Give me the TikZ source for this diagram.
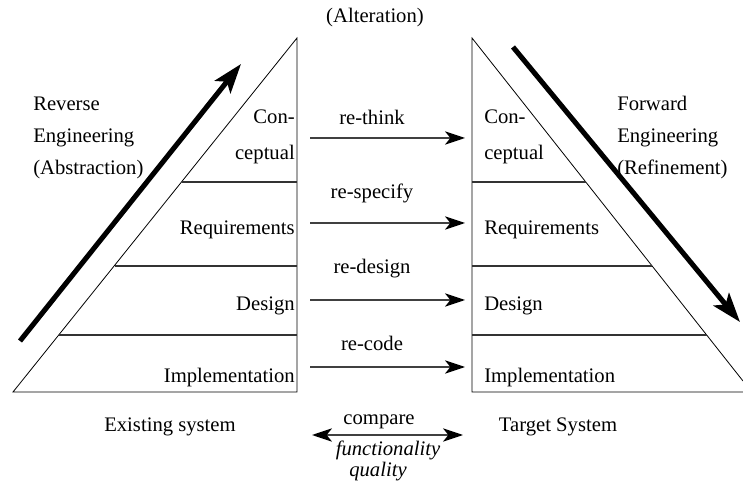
\documentclass[tikz,border=0pt]{standalone}
\usepackage{fontspec}
\setmainfont{Liberation Serif}
\usetikzlibrary{arrows.meta}

\begin{document}
\begin{tikzpicture}[x=0.75pt,y=-0.75pt]
\tikzstyle{every node}+=[inner sep=0pt, font=\fontsize{15.5}{24}\selectfont]
\tikzstyle{side}=[black, line width=0.6pt]
\tikzstyle{level}=[black!80, line width=1pt]
\tikzstyle{flow}=[black!75, line width=1pt, -{Stealth[length=15pt,width=10pt,inset=4pt,black]}]
\tikzstyle{bothflow}=[black!75, line width=1pt, {Stealth[length=15pt,width=10pt,inset=4pt,black]}-{Stealth[length=15pt,width=10pt,inset=4pt,black]}]
\tikzstyle{big}=[black, line width=3.8pt, -{Stealth[length=22pt,width=15pt,inset=5pt]}]
\useasboundingbox (0,0) rectangle (743,495);
\coordinate (ltop) at (297,38);
\coordinate (lbot) at (297,392);
\coordinate (lleft) at (13,392);
\draw [side] (lleft) -- (ltop) -- (lbot) -- cycle;
\draw [level] (181.5,182) -- (297,182);
\draw [level] (114.5,266) -- (297,266);
\draw [level] (58.7,335) -- (297,335);
\coordinate (rtop) at (472,38);
\coordinate (rbot) at (472,392);
\coordinate (rhyp) at (743,381);
\coordinate (rright) at (743,392);
\draw [side] (rhyp) -- (rtop) -- (rbot) -- (rright);
\draw [level] (472,182) -- (585.8,182);
\draw [level] (472,266) -- (652,266);
\draw [level] (472,335) -- (706.6,335);
\coordinate (revA) at (20,341);
\coordinate (revB) at (241,64);
\draw [big] (revA) -- (revB);
\coordinate (fwdA) at (513,47);
\coordinate (fwdB) at (740,322);
\draw [big] (fwdA) -- (fwdB);
\node (alter) at (375,18) {(Alteration)};
\node (rev) [anchor=west, align=left] at (33,138) {Reverse\\Engineering\\(Abstraction)};
\node (fwd) [anchor=west, align=left] at (617,138) {Forward\\Engineering\\(Refinement)};
\node (lcon) [anchor=east] at (295,117) {Con-};
\node (lcep) [anchor=east] at (295,155) {ceptual};
\node (lreq) [anchor=east] at (295,230) {Requirements};
\node (ldes) [anchor=east] at (295,306) {Design};
\node (limp) [anchor=east] at (295,378) {Implementation};
\node (rcon) [anchor=west] at (484,117) {Con-};
\node (rcep) [anchor=west] at (484,155) {ceptual};
\node (rreq) [anchor=west] at (484,230) {Requirements};
\node (rdes) [anchor=west] at (484,306) {Design};
\node (rimp) [anchor=west] at (484,378) {Implementation};
\coordinate (thinkA) at (310,138);
\coordinate (thinkB) at (465,138);
\coordinate (specA) at (310,223);
\coordinate (specB) at (465,223);
\coordinate (desA) at (310,300);
\coordinate (desB) at (465,300);
\coordinate (codeA) at (310,367);
\coordinate (codeB) at (465,367);
\draw [flow] (thinkA) -- (thinkB);
\draw [flow] (specA) -- (specB);
\draw [flow] (desA) -- (desB);
\draw [flow] (codeA) -- (codeB);
\node (think) at (372,117) {re-think};
\node (spec) at (372,193) {re-specify};
\node (des) at (372,269) {re-design};
\node (code) at (372,343) {re-code};
\node (exist) at (170,427) {Existing system};
\node (target) at (558,427) {Target System};
\coordinate (cmpA) at (312,435);
\coordinate (cmpB) at (463,435);
\draw [bothflow] (cmpA) -- (cmpB);
\node (cmp) at (379,422) {compare};
\node (func) at (388,450) {\itshape functionality};
\node (qual) at (378,472) {\itshape quality};
\end{tikzpicture}
\end{document}
